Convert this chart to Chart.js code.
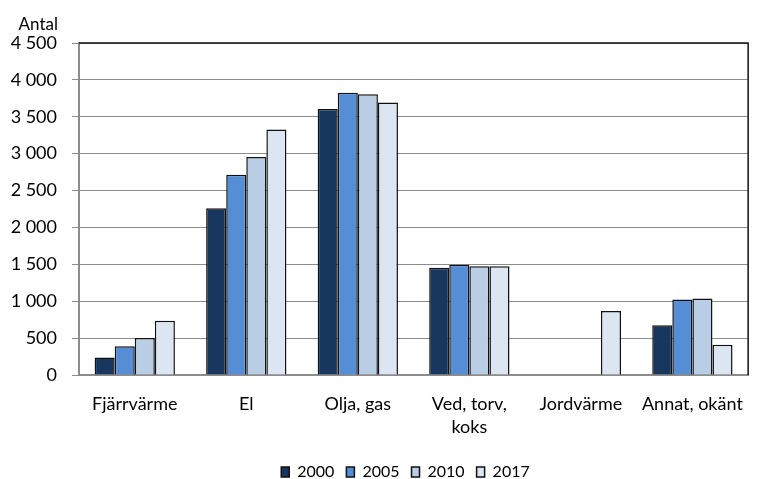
<!DOCTYPE html>
<html>
<head>
<meta charset="utf-8">
<script src="https://cdn.jsdelivr.net/npm/chart.js@4"></script>
<style>
  html, body { margin: 0; padding: 0; background: #fff; }
  #wrap { width: 761px; height: 479px; }
</style>
</head>
<body>
<div id="wrap"><canvas id="diagram"></canvas></div>
<script>
const kategorier = ['Fjärrvärme', 'El', 'Olja, gas', ['Ved, torv,', 'koks'], 'Jordvärme', 'Annat, okänt'];
const ar = ['2000', '2005', '2010', '2017'];
const varden2000 = [236, 2259, 3605, 1455, null, 673];
const varden2005 = [391, 2714, 3827, 1495, null, 1023];
const varden2010 = [500, 2955, 3805, 1473, null, 1036];
const varden2017 = [736, 3327, 3695, 1473, 868, 409];
const yTicks = [0, 500, 1000, 1500, 2000, 2500, 3000, 3500, 4000, 4500];

const farger = ['#17375e', '#558ed5', '#b9cde5', '#dce6f2'];
const serier = [varden2000, varden2005, varden2010, varden2017];
const typsnitt = "Lato, 'Open Sans', sans-serif";

// ram upptill och till höger + "Antal"
const ramPlugin = {
  id: 'ram',
  afterLayout(chart) {
    // flytta förklaringen lite (som i originalet)
    chart.legend.left += 26;
    chart.legend.right += 26;
    chart.legend.top += 11;
    chart.legend.bottom += 11;
  },
  afterDatasetsDraw(chart) {
    const { ctx, chartArea: a } = chart;
    ctx.save();
    ctx.strokeStyle = '#111';
    ctx.lineWidth = 1.5;
    ctx.beginPath();
    ctx.moveTo(a.left, a.top);
    ctx.lineTo(a.right, a.top);
    ctx.lineTo(a.right, a.bottom);
    ctx.stroke();
    ctx.fillStyle = '#000';
    ctx.font = '17px ' + typsnitt;
    ctx.textAlign = 'right';
    ctx.textBaseline = 'alphabetic';
    ctx.fillText('Antal', 58, 30);
    ctx.restore();
  }
};

new Chart(document.getElementById('diagram'), {
  type: 'bar',
  data: {
    labels: kategorier,
    datasets: serier.map((d, i) => ({
      label: ar[i],
      data: d,
      backgroundColor: farger[i],
      borderColor: '#111',
      borderWidth: 1.5,
      categoryPercentage: 0.72,
      barPercentage: 1
    }))
  },
  options: {
    responsive: true,
    maintainAspectRatio: false,
    animation: false,
    layout: { padding: { left: 0, right: 2, top: 43, bottom: 0 } },
    plugins: {
      tooltip: { enabled: false },
      legend: {
        position: 'bottom',
        labels: {
          boxWidth: 8,
          boxHeight: 10,
          padding: 12,
          color: '#000',
          font: { family: typsnitt, size: 16 }
        }
      }
    },
    scales: {
      x: {
        grid: { display: false, drawTicks: false },
        border: { color: '#8c8c8c', width: 2 },
        ticks: {
          color: '#000',
          padding: 18,
          maxRotation: 0,
          autoSkip: false,
          font: { family: typsnitt, size: 18, lineHeight: 1.28 }
        },
        afterFit(s) { s.height = 66; }
      },
      y: {
        min: 0,
        max: 4500,
        afterBuildTicks(s) { s.ticks = yTicks.map(v => ({ value: v })); },
        grid: { color: '#8c8c8c', lineWidth: 1, tickLength: 7 },
        border: { color: '#8c8c8c', width: 2 },
        ticks: {
          color: '#000',
          padding: 15,
          font: { family: typsnitt, size: 18 },
          callback: v => String(v).replace(/\B(?=(\d{3})+(?!\d))/g, ' ')
        },
        afterFit(s) { s.width = 79; }
      }
    }
  },
  plugins: [ramPlugin]
});
</script>
</body>
</html>
